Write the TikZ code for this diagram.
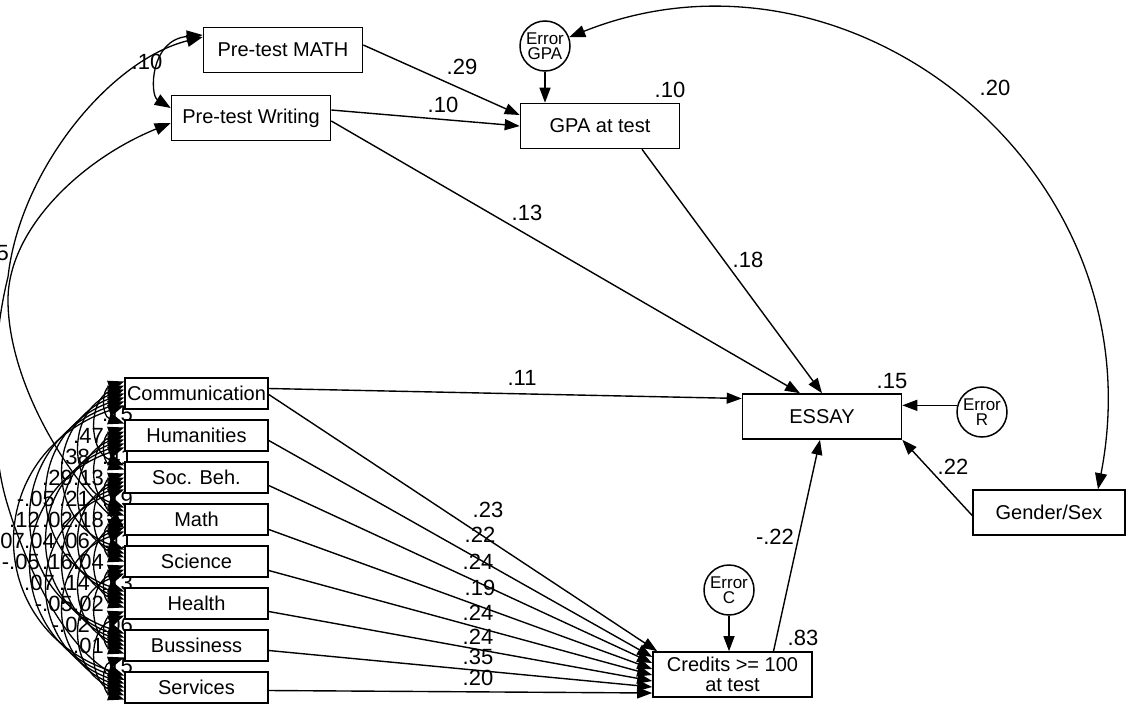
\documentclass[tikz,border=0pt]{standalone}
\usepackage{fontspec}
\setmainfont{Liberation Sans}
\usetikzlibrary{arrows.meta,calc}
\pgfdeclarelayer{bg}
\pgfsetlayers{bg,main}

\begin{document}
\begin{tikzpicture}[x=1pt,y=-1pt,
  every node/.style={inner sep=0pt},
  obs/.style={draw, line width=1.6pt, fill=white, minimum width=159pt,
    minimum height=45pt, font=\fontsize{20}{20}\selectfont, align=center},
  catbox/.style={obs, minimum width=143pt, minimum height=31pt},
  errc/.style={circle, draw, line width=1.5pt, fill=white, minimum size=50pt,
    align=center, font=\fontsize{17}{15}\selectfont},
  lbl/.style={font=\fontsize{22}{22}\selectfont},
  reg/.style={line width=1.4pt, -{Triangle[length=15pt,width=11pt]}},
  cov/.style={line width=1.3pt,
    {Triangle[length=16pt,width=12pt]}-{Triangle[length=16pt,width=12pt]}},
]
\useasboundingbox (0,0) rectangle (1126,704);

% ---------- observed variables ----------
\node[obs] (math) at (283,50) {Pre-test MATH};
\node[obs] (writ) at (251,118) {Pre-test Writing};
\node[obs] (gpa) at (600,126) {GPA at test};
\node[obs] (essay) at (822,416.5) {ESSAY};
\node[obs] (cred) at (732.5,674.5) {Credits >= 100\\at test};
\node[obs, minimum width=152pt] (gender) at (1049,512.5) {Gender/Sex};

% ---------- error terms ----------
\node[errc] (egpa) at (545,46) {Error\\GPA};
\node[errc] (er) at (982,412) {Error\\R};
\node[errc] (ec) at (729,590) {Error\\C};

% ---------- college categories ----------
\foreach \n [count=\k from 0] in {Communication,Humanities,Soc. Beh.,Math,Science,Health,Bussiness,Services}
  \node[catbox] (c\k) at (196.5,393.5+42*\k) {\n};

% ---------- covariances among the categories ----------
\begin{pgfonlayer}{bg}
\foreach \i in {0,...,6}{
  \pgfmathtruncatemacro\ip{\i+1}
  \foreach \j in {\ip,...,7}{
    \pgfmathtruncatemacro\d{\j-\i}
    \pgfmathsetmacro\apex{{108,98,82,66,50,34,18}[\d-1]}
    \pgfmathsetmacro\k{(125-\apex)/0.75}
    \pgfmathsetmacro\sa{12-4*(\j-1)}
    \pgfmathsetmacro\sb{12-4*\i}
    \pgfmathsetmacro\c{0.18*(38*\d+4)}
    \draw[cov] ([yshift=\sa pt]c\i.west) .. controls +(-\k,\c) and +(-\k,-\c) .. ([yshift=\sb pt]c\j.west);
  }
}
\foreach \i/\j/\t in {0/1/.15,0/2/.47,0/3/.38,0/4/.29,0/5/-.05,0/6/.12,0/7/.07,
    1/2/.41,1/3/.13,1/4/.21,1/5/.02,1/6/.04,1/7/-.05,
    2/3/.19,2/4/.18,2/5/.06,2/6/.16,2/7/.07,
    3/4/.11,3/5/.04,3/6/.14,3/7/-.05,
    4/5/.13,4/6/.02,4/7/-.02,
    5/6/.06,5/7/.01,
    6/7/.15}{
  \pgfmathtruncatemacro\d{\j-\i}
  \pgfmathsetmacro\lx{{133,104,90,73,55,40,25}[\d-1]}
  \pgfmathsetmacro\ly{393.5+21*(\i+\j)}
  \node[lbl, anchor=east] (r\i\j) at (\lx,\ly) {\t};
}

% covariances of the pre-tests
\draw[cov] ([yshift=15pt]math.west) .. controls +(-53,5) and +(-21,-13) .. ([yshift=10pt]writ.west);
\draw[cov] ([yshift=-5pt]writ.west) .. controls (80,160) and (8,230) .. (8,300)
   .. controls (8,380) and (65,475) .. ([yshift=-8.5pt]c3.west);
\draw[cov] ([yshift=13pt]math.west) .. controls (110,60) and (20,170) .. (8,277)
   .. controls (-8,340) and (-12,440) .. (7,503)
   .. controls (30,580) and (70,650) .. ([yshift=7.5pt]c7.west);
\node[lbl, anchor=east] (rpre) at (9,253) {.05};

% error of GPA with gender
\draw[cov] (egpa.20) .. controls (850,-75) and (1160,170) .. ([xshift=49pt]gender.north);
\end{pgfonlayer}

% ---------- regression paths ----------
\draw[reg] ([yshift=5pt]math.east) -- ([yshift=11pt]gpa.west);
\draw[reg] ([yshift=8pt]writ.east) -- (gpa.west);
\draw[reg] ([yshift=-3pt]writ.east) -- ([xshift=-22pt]essay.north);
\draw[reg] ([xshift=42pt]gpa.south) -- (essay.north);
\draw[reg] (egpa.south) -- (egpa.south |- gpa.north);
\draw[reg] (er.165) -- (er.165 -| essay.east);
\draw[reg] (ec.south) -- (ec.south |- cred.north);
\draw[reg] ([xshift=41pt]cred.north) -- ([xshift=-2pt]essay.south);
\draw[reg] ([yshift=-3pt]gender.west) -- (essay.south east);
\draw[reg] ([yshift=5pt]c0.east) -- ([yshift=18pt]essay.west);
\draw[reg] ([yshift=-1pt]c0.east) -- ([xshift=5pt]cred.north west);
\foreach \k/\s/\e in {1/-5/17.5,2/-8/11.5,3/-10/5.5,4/-9/-0.5,5/-8/-6.5,6/-5/-12.5,7/-3/-18.5}
  \draw[reg] ([yshift=\s pt]c\k.east) -- ([yshift=\e pt]cred.west);

% ---------- coefficients ----------
\node[lbl] (l29) at (462,67) {.29};
\node[lbl] (l10w) at (443,105) {.10};
\node[lbl] (rgpa) at (670,90) {.10};
\node[lbl] (l13) at (527,213) {.13};
\node[lbl] (l18) at (748,260) {.18};
\node[lbl] (ress) at (892,381) {.15};
\node[lbl] (l22g) at (953,467) {.22};
\node[lbl] (l22c) at (775,537) {-.22};
\node[lbl] (rcred) at (803,638) {.83};
\node[lbl] (l11) at (522,378) {.11};
\node[lbl] (l20) at (995,88) {.20};
\node[lbl] (lmw) at (147,62) {.10};
\foreach \x/\y/\t [count=\n] in {488/510/.23,480/535/.22,478/562/.24,480/588/.19,
    478/613/.24,478/637/.24,478/657/.35,478/678/.20}
  \node[lbl] (lc\n) at (\x,\y) {\t};
\end{tikzpicture}
\end{document}
